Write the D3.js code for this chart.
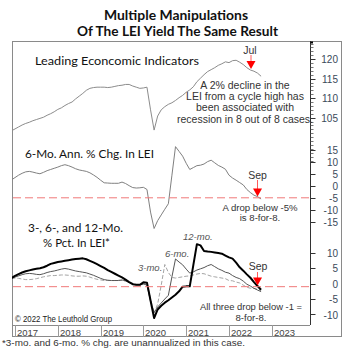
<!DOCTYPE html>
<html><head><meta charset="utf-8">
<script src="https://cdn.jsdelivr.net/npm/d3@7"></script>
<style>body{margin:0;background:#fff} svg{display:block}</style>
</head><body><svg id="c" width="350" height="356"></svg>
<script>
// ---- data (monthly, Dec 2016 .. Oct 2022) ----
const startYear = 2016, startMonth = 11; // Dec 2016, 0-based month
const years = [2017, 2018, 2019, 2020, 2021, 2022, 2023];
const leiTicks = [105, 110, 115, 120];
const sixAnnTicks = [15, 10, 5, 0, -5, -10, -15];
const pctTicks = [10, 5, 0, -5, -10];

const lei = [101.6,102.1,102.6,103.1,103.5,103.8,104.2,104.5,104.8,105.1,
  105.6,106.0,106.5,107.1,107.5,108.1,108.6,109.0,109.8,110.5,
  111.2,112.0,112.5,112.7,112.8,112.8,112.8,112.7,112.8,113.0,
  113.2,113.3,113.5,113.5,113.1,112.8,112.5,112.6,112.8,107.0,
  101.8,105.4,107.0,107.8,108.4,108.8,109.4,110.1,110.7,111.5,
  112.1,112.9,114.2,115.1,116.0,116.8,117.3,117.8,118.4,118.8,
  119.3,119.1,119.6,119.7,119.2,118.6,117.8,117.2,116.9,116.4,115.6];

const sixAnn = [2.5,3.5,4.5,5.3,5.9,6.1,5.8,5.4,5.1,5.7,
  6.4,6.9,7.4,7.9,8.5,8.9,8.5,7.9,7.2,6.7,
  6.4,6.1,5.5,4.6,3.6,2.4,1.3,1.2,1.1,1.1,
  1.1,1.6,1.0,0.1,-0.7,-0.9,-0.8,-0.6,-1.5,-11,
  -17.9,-14.6,-12.2,-9.8,-7.5,4.5,16.5,14.5,12.5,9.5,
  6.9,7.7,8.5,8.7,9.2,10.2,10.8,9.7,8.6,7.9,
  7.0,4.5,3.3,2.4,1.4,0.4,-1.5,-2.8,-3.9,-4.5,-5.5];

const pct12 = [1.8,2.5,3.1,3.6,4.0,4.3,4.6,4.8,5.0,5.3,
  5.8,6.4,6.7,7.0,7.2,7.4,7.6,7.8,8.0,8.1,
  8.2,7.9,7.4,6.9,6.3,5.7,5.1,4.4,3.8,3.2,
  2.6,2.0,1.3,0.5,-0.2,-0.4,-0.4,0.4,0.3,-5.5,
  -11.2,-8.4,-7.2,-6.2,-5.4,-4.5,-3.6,-2.5,-1.0,-0.9,
  -0.9,6.0,12.8,12.4,10.6,10.4,10.3,10.1,9.9,9.7,
  9.1,8.5,8.1,6.8,5.3,4.2,3.0,1.9,0.5,-0.8,-2.0];

const pct6 = [1.8,2.1,2.5,2.9,3.2,3.3,3.2,3.0,2.9,3.2,
  3.6,3.9,4.1,4.4,4.7,4.9,4.7,4.4,4.1,3.9,
  3.7,3.5,3.1,2.7,2.2,1.7,1.3,1.1,1.0,1.0,
  1.0,1.2,0.9,0.4,-0.2,-0.4,-0.4,-0.1,-0.5,-5.7,
  -9.4,-7.6,-6.3,-5.0,-3.8,2.2,8.0,7.0,6.1,4.7,
  3.4,3.8,4.4,4.8,5.2,5.8,6.2,5.5,4.8,4.3,
  3.7,3.4,2.6,2.0,1.6,0.8,-0.2,-0.8,-1.5,-2.1,-2.6];

const pct3 = [1.6,1.8,1.7,1.5,1.3,1.3,1.4,1.6,1.9,2.2,
  2.4,2.6,2.6,2.7,2.8,2.8,2.7,2.5,2.4,2.4,
  2.5,2.4,2.1,1.7,1.4,1.2,1.0,1.0,1.0,1.0,
  1.1,1.0,0.8,0.5,0.1,-0.3,-0.4,-0.2,0.2,-4.9,
  -9.6,-6.6,-0.5,6.2,3.6,2.0,1.8,2.0,2.2,2.4,
  2.5,2.8,3.1,3.3,3.2,2.8,2.4,2.2,2.0,1.8,
  1.6,1.0,0.9,0.5,0.2,-0.5,-1.2,-1.5,-1.6,-1.8,-2.2];

// ---- layout ----
const svg = d3.select("#c");
const L = 12, R = 310, T = 41, B = 325, FR = 342, FB = 337;
const tOf = i => startYear + (startMonth + i) / 12;

const x = d3.scaleLinear().domain([2018, 2023]).range([57.8, 271.8]);
const yLei = d3.scaleLinear().domain([105, 120]).range([117.6, 59.1]);
const ySix = d3.scaleLinear().domain([-15, 15]).range([221.6, 150.2]);
const yPct = d3.scaleLinear().domain([-10, 10]).range([314.4, 252.8]);

svg.append("defs").append("clipPath").attr("id", "pc")
  .append("rect").attr("x", L).attr("y", T).attr("width", R - L).attr("height", B - T);

// frame
svg.append("rect").attr("x", L + 0.5).attr("y", T + 0.5).attr("width", FR - L - 1).attr("height", FB - T - 1)
  .attr("fill", "#fff").attr("stroke", "#8a8a8a");
svg.append("line").attr("x1", L).attr("x2", R).attr("y1", B + 0.5).attr("y2", B + 0.5).attr("stroke", "#8a8a8a");

// year strip
years.forEach(yr => {
  const xx = Math.round(x(yr)) + 0.5;
  svg.append("line").attr("x1", xx).attr("x2", xx).attr("y1", B).attr("y2", FB).attr("stroke", "#9a9a9a");
  svg.append("text").attr("x", xx + 1.5).attr("y", 335.5).text(yr)
    .attr("font-family", "Liberation Sans, Arial, sans-serif").attr("font-size", 9.5).attr("fill", "#444");
});

// right axis
const axX = R + 0.5;
svg.append("line").attr("x1", axX).attr("x2", axX).attr("y1", T).attr("y2", B).attr("stroke", "#333");
// minor ticks: uniform spacing using the LEI scale units
const minor = d3.range(94, 125, 1).map(v => yLei(v)).filter(y => y > T + 1 && y < B - 1);
svg.selectAll(".mt").data(minor).join("line")
  .attr("x1", axX).attr("x2", axX + 3).attr("y1", d => Math.round(d) + 0.5).attr("y2", d => Math.round(d) + 0.5)
  .attr("stroke", "#555").attr("stroke-width", 0.8);
svg.append("line").attr("x1", axX).attr("x2", axX + 2.5).attr("y1", T + 1.5).attr("y2", T + 1.5).attr("stroke", "#000").attr("stroke-width", 2);

function majorTicks(scale, ticks) {
  ticks.forEach(v => {
    const yy = Math.round(scale(v)) + 0.5;
    svg.append("line").attr("x1", axX).attr("x2", axX + 5).attr("y1", yy).attr("y2", yy).attr("stroke", "#333");
    svg.append("text").attr("x", 338).attr("y", scale(v) + 4.2).attr("text-anchor", "end").text(v)
      .attr("font-family", "Liberation Sans, Arial, sans-serif").attr("font-size", 10).attr("fill", "#3a4a5a");
  });
}
majorTicks(yLei, leiTicks);
majorTicks(ySix, sixAnnTicks);
majorTicks(yPct, pctTicks);

const g = svg.append("g").attr("clip-path", "url(#pc)");
function line(arr, scale) {
  return d3.line().x((d, i) => x(tOf(i))).y(d => scale(d))(arr);
}
g.append("path").attr("d", line(lei, yLei)).attr("fill", "none").attr("stroke", "#8c8c8c").attr("stroke-width", 1);
g.append("path").attr("d", line(sixAnn, ySix)).attr("fill", "none").attr("stroke", "#808080").attr("stroke-width", 1);
g.append("path").attr("d", line(pct3, yPct)).attr("fill", "none").attr("stroke", "#9a9a9a").attr("stroke-width", 0.9).attr("stroke-dasharray", "4,2");
g.append("path").attr("d", line(pct6, yPct)).attr("fill", "none").attr("stroke", "#555").attr("stroke-width", 1);
g.append("path").attr("d", line(pct12, yPct)).attr("fill", "none").attr("stroke", "#000").attr("stroke-width", 2).attr("stroke-linejoin", "round");

// red dashed thresholds
[[ySix, -5], [yPct, -1]].forEach(([s, v]) => {
  svg.append("line").attr("x1", L + 1).attr("x2", R).attr("y1", s(v)).attr("y2", s(v))
    .attr("stroke", "#f07878").attr("stroke-width", 1).attr("stroke-dasharray", "8,4");
});

// text helpers
function txt(str, xx, yy, opt = {}) {
  const t = svg.append("text").attr("x", xx).attr("y", yy).text(str)
    .attr("font-family", opt.family || "Liberation Sans, Arial, sans-serif")
    .attr("font-size", opt.size || 10.5).attr("fill", opt.fill || "#333")
    .attr("text-anchor", opt.anchor || "middle");
  if (opt.weight) t.attr("font-weight", opt.weight);
  if (opt.style) t.attr("font-style", opt.style);
  if (opt.len) t.attr("textLength", opt.len).attr("lengthAdjust", "spacingAndGlyphs");
  return t;
}
const gothic = "Lato, 'Open Sans', sans-serif";
txt("Multiple Manipulations", 176, 19.5, {family: gothic, size: 12.5, weight: 700, fill: "#111", len: 144});
txt("Of The LEI Yield The Same Result", 177.5, 35.5, {family: gothic, size: 12.5, weight: 700, fill: "#111", len: 201});
txt("Leading Econcomic Indicators", 35, 65, {family: gothic, size: 11.5, fill: "#111", anchor: "start", len: 164});
txt("6-Mo. Ann. % Chg. In LEI", 25, 158.3, {family: gothic, size: 11, fill: "#111", anchor: "start", len: 129});
txt("3-, 6-, and 12-Mo.", 75.5, 232.3, {family: gothic, size: 11, fill: "#111", len: 95});
txt("% Pct. In LEI*", 76.5, 246.7, {family: gothic, size: 11, fill: "#111", len: 67});

// annotations
const ann = ["A 2% decline in the", "LEI from a cycle high has", "been associated with", "recession in 8 out of 8 cases."];
ann.forEach((s, i) => txt(s, 245, 88.5 + i * 11.4, {size: 10.5}));
txt("Jul", 250, 53.5, {size: 10.5});
txt("Sep", 257.5, 178.5, {size: 10.5});
txt("A drop below -5%", 260, 210.5, {size: 9.6});
txt("is 8-for-8.", 260, 220.5, {size: 9.6});
txt("Sep", 258, 270, {size: 10.5});
txt("All three drop below -1 =", 251, 309.6, {size: 9.6, len: 102});
txt("8-for-8.", 251, 320.6, {size: 9.6});

txt("12-mo.", 183, 240, {size: 9.5, style: "italic", fill: "#555", anchor: "start"});
txt("6-mo.", 165, 257, {size: 9.5, style: "italic", fill: "#555", anchor: "start"});
txt("3-mo.", 138, 271, {size: 9.5, style: "italic", fill: "#555", anchor: "start"});

txt("\u00a9 2022 The Leuthold Group", 15, 322, {size: 8.5, fill: "#222", anchor: "start", len: 97});
txt("*3-mo. and 6-mo. % chg. are unannualized in this case.", 2, 346, {size: 9, fill: "#333", anchor: "start", len: 243});

// red arrows
function arrow(xx, yTop, yTip) {
  svg.append("line").attr("x1", xx).attr("x2", xx).attr("y1", yTop).attr("y2", yTip - 7).attr("stroke", "#ff3030").attr("stroke-width", 0.8);
  svg.append("path").attr("d", `M${xx - 4.5},${yTip - 8} L${xx + 4.5},${yTip - 8} L${xx},${yTip} Z`).attr("fill", "#ff0000");
}
arrow(251, 55, 69);
arrow(257.5, 180, 196.5);
arrow(257.5, 272, 285.5);
</script></body></html>
